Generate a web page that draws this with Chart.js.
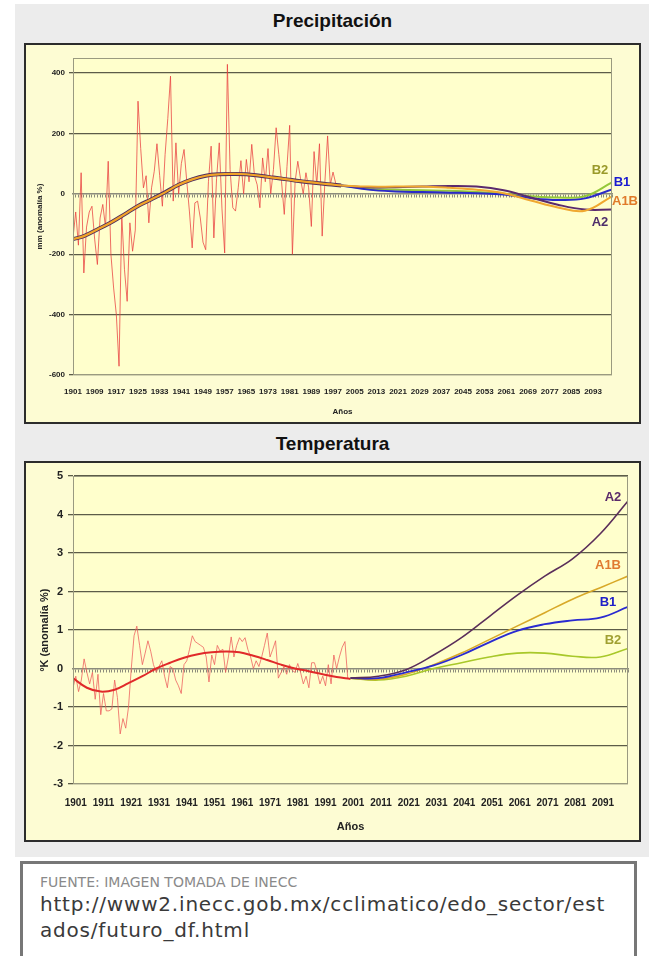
<!DOCTYPE html>
<html>
<head>
<meta charset="utf-8">
<script src="https://cdn.jsdelivr.net/npm/chart.js@4.4.0/dist/chart.umd.min.js"></script>
<style>
  body { margin: 0; width: 649px; height: 956px; background: #fff; position: relative; overflow: hidden; font-family: "Liberation Sans", Arial, sans-serif; }
  .band { position: absolute; left: 15px; top: 4px; width: 634px; height: 853px; background: #ececec; }
  .head { position: absolute; left: 24px; width: 617px; text-align: center; font-weight: bold; font-size: 19px; line-height: 26px; color: #111; }
  .box { position: absolute; left: 24px; width: 613px; height: 377px; border: 2px solid #2c2c2c; background: #fdfcd3; }
  .box canvas { display: block; }
  .src { position: absolute; left: 20px; top: 861px; width: 594px; height: 120px; border: 3px solid #777; background: #fff; padding-left: 17px; font-family: "DejaVu Sans", sans-serif; }
  .src .l1 { margin-top: 10px; font-size: 14px; color: #8a8a8a; }
  .src .l2 { margin-top: 1px; font-size: 20px; line-height: 26px; letter-spacing: 0.8px; color: #3a3a3a; }
</style>
</head>
<body>
<div class="band"></div>
<div class="head" style="top:8px">Precipitación</div>
<div class="box" style="top:43px"><canvas id="precip" width="613" height="377"></canvas></div>
<div class="head" style="top:431px">Temperatura</div>
<div class="box" style="top:461px"><canvas id="temp" width="613" height="377"></canvas></div>
<div class="src">
  <div class="l1">FUENTE: IMAGEN TOMADA DE INECC</div>
  <div class="l2">http://www2.inecc.gob.mx/cclimatico/edo_sector/est<br>ados/futuro_df.html</div>
</div>

<script>
// ---- precipitación (mm, anomalía %) ----
const precipObsStart = 1901;
const precipObs = [
  -146, -60, -170, 70, -262, -110, -60, -41, -150, -234,
  -80, -35, -110, 108, -200, -312, -400, -571, -68, -250,
  -356, -96, -190, -120, 307, 150, 20, 60, -96, 20,
  75, 166, 60, -41, 130, 250, 390, -24, 169, 0,
  100, 147, 42, -60, -179, -30, -24, -80, -160, -185,
  40, 158, -146, 50, 169, -50, -196, 429, 80, -46,
  -57, 20, 110, 0, 114, 40, 164, 60, 30, -46,
  119, 40, 150, 0, 80, 219, 130, 40, -68, 90,
  227, -200, 40, 108, 50, 0, 70, 20, -108, 140,
  30, 166, -140, 40, 192, 30, 72, 35
];
const precipTrendYears = [1901, 1905, 1910, 1915, 1920, 1925, 1930, 1935, 1940, 1945, 1950, 1955, 1960, 1965, 1970, 1975, 1980, 1985, 1990, 1995, 2000];
const precipTrend = [-150, -140, -118, -95, -68, -40, -18, 5, 30, 48, 60, 65, 66, 65, 60, 54, 48, 42, 37, 32, 28];

const scenarioYears = [2000, 2010, 2020, 2030, 2040, 2050, 2060, 2070, 2080, 2090, 2100];
const precipA2 = [28, 22, 22, 24, 26, 24, 12, -12, -36, -52, -52];
const precipA1B = [28, 24, 24, 24, 20, 14, 2, -22, -45, -56, -8];
const precipB1 = [28, 14, 8, 6, 4, 2, -2, -14, -20, -15, 15];
const precipB2 = [28, 16, 14, 12, 10, 6, 0, -8, -12, -8, 38];

const precipXTicks = [1901, 1909, 1917, 1925, 1933, 1941, 1949, 1957, 1965, 1973, 1981, 1989, 1997,
  2005, 2013, 2021, 2029, 2037, 2045, 2053, 2061, 2069, 2077, 2085, 2093];
const precipYTicks = [-600, -400, -200, 0, 200, 400];

// ---- temperatura (ºK, anomalía) ----
const tempObsStart = 1900;
const tempObs = [
  -0.5, -0.2, -0.6, -0.3, 0.25, -0.1, -0.4, -0.1, -0.8, -0.15,
  -1.2, -0.65, -1.1, -1.1, -1.05, -0.3, -0.75, -1.7, -1.3, -1.55,
  -1.0, 0.0, 0.85, 1.1, 0.6, 0.1, 0.4, 0.72, 0.45, 0.1,
  -0.1, 0.05, 0.2, -0.2, -0.5, 0.05, 0.0, -0.3, -0.45, -0.65,
  0.1, 0.2, 0.5, 0.85, 0.7, 0.65, 0.6, 0.55, 0.3, -0.35,
  0.35, 0.1, 0.6, 0.45, 0.5, -0.1, 0.3, 0.82, 0.3, 0.6,
  0.8, 0.7, 0.8, 0.5, 0.3, 0.0, 0.2, 0.05, 0.3, 0.6,
  0.92, 0.3, 0.5, 0.72, -0.25, -0.1, 0.05, -0.15, 0.1, -0.05,
  -0.1, 0.13, -0.1, -0.4, -0.2, -0.5, 0.15, 0.15, -0.1, -0.4,
  -0.2, -0.45, 0.1, -0.4, 0.35, 0.0, 0.3, 0.55, 0.7, -0.25
];
const tempTrendYears = [1900, 1905, 1910, 1915, 1920, 1925, 1930, 1935, 1940, 1945, 1950, 1955, 1960, 1965, 1970, 1975, 1980, 1985, 1990, 1995, 2000];
const tempTrend = [-0.25, -0.5, -0.6, -0.55, -0.38, -0.2, 0.0, 0.15, 0.28, 0.37, 0.42, 0.44, 0.42, 0.33, 0.22, 0.1, 0.0, -0.07, -0.15, -0.22, -0.27];

const tempA2 = [-0.25, -0.2, -0.03, 0.35, 0.8, 1.35, 1.9, 2.4, 2.85, 3.5, 4.35];
const tempA1B = [-0.25, -0.28, -0.15, 0.1, 0.4, 0.75, 1.1, 1.45, 1.8, 2.1, 2.4];
const tempB1 = [-0.25, -0.25, -0.1, 0.08, 0.35, 0.68, 0.98, 1.15, 1.25, 1.32, 1.6];
const tempB2 = [-0.25, -0.3, -0.2, 0.0, 0.15, 0.3, 0.4, 0.4, 0.32, 0.3, 0.52];

const tempXTicks = [1901, 1911, 1921, 1931, 1941, 1951, 1961, 1971, 1981, 1991, 2001, 2011, 2021, 2031, 2041, 2051, 2061, 2071, 2081, 2091];
const tempYTicks = [-3, -2, -1, 0, 1, 2, 3, 4, 5];

Chart.defaults.font.family = '"Liberation Sans", Arial, sans-serif';
Chart.defaults.color = "#222";

function pairs(xs, ys) {
  return ys.map((y, i) => ({ x: xs[i], y: y }));
}
function yearly(start, ys) {
  return ys.map((y, i) => ({ x: start + i, y: y }));
}

// plot area fill and frame
const frame = {
  id: "frame",
  beforeDraw(chart) {
    const a = chart.chartArea;
    chart.ctx.save();
    chart.ctx.fillStyle = "#ffffcc";
    chart.ctx.fillRect(a.left, a.top, a.width, a.height);
    chart.ctx.restore();
  },
  afterDraw(chart) {
    const a = chart.chartArea;
    chart.ctx.save();
    chart.ctx.strokeStyle = "#9a9a80";
    chart.ctx.lineWidth = 1;
    chart.ctx.strokeRect(a.left + 0.5, a.top + 0.5, a.width - 1, a.height - 1);
    chart.ctx.restore();
  },
};

// scenario names next to the end of each line
const endLabels = {
  id: "endLabels",
  afterDatasetsDraw(chart) {
    const ctx = chart.ctx;
    chart.data.datasets.forEach((ds, i) => {
      if (!ds.endLabel) return;
      const pts = chart.getDatasetMeta(i).data;
      const last = pts[pts.length - 1];
      ctx.save();
      ctx.font = 'bold 13px "Liberation Sans", Arial, sans-serif';
      ctx.fillStyle = ds.endLabel.color;
      ctx.textAlign = "center";
      ctx.textBaseline = "middle";
      ctx.fillText(ds.label, last.x + ds.endLabel.dx, last.y + ds.endLabel.dy);
      ctx.restore();
    });
  },
};

function line(label, data, color, width, order, extra) {
  return Object.assign({
    label: label,
    data: data,
    borderColor: color,
    borderWidth: width,
    pointRadius: 0,
    tension: 0.4,
    fill: false,
    order: order,
  }, extra || {});
}

function buildChart(id, o) {
  return new Chart(document.getElementById(id), {
    type: "line",
    data: { datasets: o.datasets },
    options: {
      responsive: false,
      animation: false,
      events: [],
      layout: { padding: o.padding },
      plugins: { legend: { display: false }, tooltip: { enabled: false } },
      scales: {
        x: {
          type: "linear",
          min: o.xMin,
          max: 2100,
          afterBuildTicks: (a) => { a.ticks = o.xTicks.map((v) => ({ value: v })); },
          afterFit: (s) => { s.height = o.xHeight; },
          ticks: { autoSkip: false, maxRotation: 0, padding: o.xPad, font: { size: o.xFont, weight: "bold" }, callback: (v) => String(v) },
          grid: { display: false, drawTicks: false },
          border: { display: false },
          title: { display: true, text: "Años", font: { size: o.titleFont, weight: "bold" }, padding: { top: 0, bottom: 0 } },
        },
        x0: {
          type: "linear",
          axis: "x",
          position: { y: 0 },
          min: o.xMin,
          max: 2100,
          ticks: { display: false, stepSize: 1 },
          grid: { drawOnChartArea: false, tickLength: 3, color: "#8c8c7c" },
          border: { color: "#8c8c7c", width: 1.5 },
        },
        y: {
          min: o.yMin,
          max: o.yMax,
          afterBuildTicks: (a) => { a.ticks = o.yTicks.map((v) => ({ value: v })); },
          afterFit: (s) => { s.width = 47; },
          ticks: { padding: o.yPad, font: { size: o.yFont, weight: "bold" } },
          grid: {
            color: (c) => (c.tick && c.tick.value === 0 ? "rgba(0,0,0,0)" : "#5c5c48"),
            lineWidth: 1.3,
            tickLength: o.yTick,
          },
          border: { color: "#8c8c74" },
          title: { display: true, text: o.yTitle, font: { size: o.titleFont, weight: "bold" }, padding: { top: o.yTitlePad, bottom: 0 } },
        },
      },
    },
    plugins: [frame, endLabels],
  });
}

buildChart("precip", {
  xMin: 1901, xTicks: precipXTicks, xHeight: 42, xPad: 12, xFont: 8,
  yMin: -600, yMax: 450, yTicks: precipYTicks, yPad: 4, yTick: 4, yFont: 8,
  yTitle: "mm (anomalía %)", yTitlePad: 9, titleFont: 8,
  padding: { left: 0, right: 27, top: 13, bottom: 5 },
  datasets: [
    line("Observado", yearly(precipObsStart, precipObs), "rgba(232,62,62,0.75)", 1, 10, { tension: 0 }),
    line("Tendencia base", pairs(precipTrendYears, precipTrend), "#4e2e5e", 4, 6),
    line("Tendencia", pairs(precipTrendYears, precipTrend), "#f2a428", 2.2, 5),
    line("B2", pairs(scenarioYears, precipB2), "#94c83a", 2, 4, { endLabel: { color: "#9a9a2a", dx: -12, dy: -12 } }),
    line("B1", pairs(scenarioYears, precipB1), "#2a2ac8", 2, 3, { endLabel: { color: "#1a1ad0", dx: 10, dy: -7 } }),
    line("A2", pairs(scenarioYears, precipA2), "#5a2a6e", 2, 2, { endLabel: { color: "#4e2e6a", dx: -12, dy: 13 } }),
    line("A1B", pairs(scenarioYears, precipA1B), "#f0a830", 2, 1, { endLabel: { color: "#e07a2a", dx: 13, dy: 5 } }),
  ],
});

buildChart("temp", {
  xMin: 1900, xTicks: tempXTicks, xHeight: 50, xPad: 13, xFont: 10,
  yMin: -3, yMax: 5, yTicks: tempYTicks, yPad: 5, yTick: 5, yFont: 11,
  yTitle: "ºK (anomalía %)", yTitlePad: 12, titleFont: 11,
  padding: { left: 0, right: 11, top: 13, bottom: 6 },
  datasets: [
    line("Observado", yearly(tempObsStart, tempObs), "rgba(236,90,90,0.75)", 1, 10, { tension: 0 }),
    line("Tendencia", pairs(tempTrendYears, tempTrend), "#e02a2a", 2, 5),
    line("B2", pairs(scenarioYears, tempB2), "#a8c82a", 1.6, 4, { endLabel: { color: "#a0a032", dx: -15, dy: -8 } }),
    line("A1B", pairs(scenarioYears, tempA1B), "#d8a828", 1.6, 3, { endLabel: { color: "#e07a30", dx: -20, dy: -11 } }),
    line("B1", pairs(scenarioYears, tempB1), "#2a2ad0", 1.8, 2, { endLabel: { color: "#2020c8", dx: -20, dy: -4 } }),
    line("A2", pairs(scenarioYears, tempA2), "#5a2e5a", 1.6, 1, { endLabel: { color: "#5a2a6a", dx: -15, dy: -4 } }),
  ],
});
</script>
</body>
</html>
